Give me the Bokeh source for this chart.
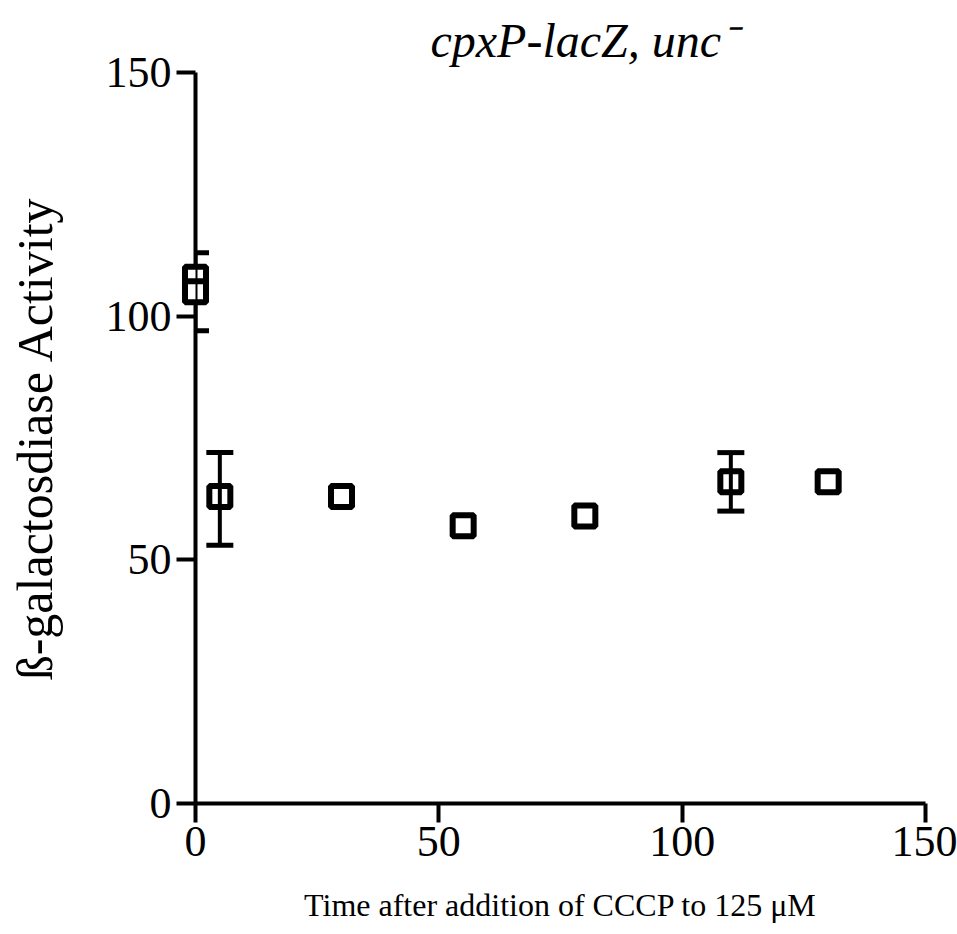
from bokeh.plotting import figure
from bokeh.models import Range1d, FixedTicker, Whisker, TeeHead, ColumnDataSource
from bokeh.embed import file_html
from bokeh.resources import INLINE

# ---- data ----
time_min = [0, 0, 5, 30, 55, 80, 110, 130]
activity = [108, 105, 63, 63, 57, 59, 66, 66]

err_time = [0, 5, 110]
err_lower = [97, 53, 60]
err_upper = [113, 72, 72]

x_ticks = [0, 50, 100, 150]
y_ticks = [0, 50, 100, 150]

title_text = "cpxP-lacZ, unc\u207b"
x_label = "Time after addition of CCCP to 125 \u03bcM"
y_label = "\u00df-galactosdiase Activity"

p = figure(width=957, height=934,
           x_range=Range1d(0, 150), y_range=Range1d(0, 150),
           output_backend="svg", toolbar_location=None,
           min_border_left=195, min_border_right=32,
           min_border_top=72, min_border_bottom=131,
           title=title_text)

p.outline_line_color = None
p.xgrid.visible = False
p.ygrid.visible = False
p.background_fill_color = "white"
p.border_fill_color = "white"

p.title.text_font = "Liberation Serif"
p.title.text_font_style = "italic"
p.title.text_font_size = "48px"
p.title.text_color = "black"
p.title.align = "left"
p.title.offset = 235
p.title.standoff = 12

for ax in (p.xaxis[0], p.yaxis[0]):
    ax.axis_line_color = "black"
    ax.axis_line_width = 4
    ax.major_tick_line_color = "black"
    ax.major_tick_line_width = 4
    ax.major_tick_in = 0
    ax.major_tick_out = 19
    ax.minor_tick_line_color = None
    ax.major_label_text_font = "Liberation Serif"
    ax.major_label_text_font_size = "44px"
    ax.major_label_text_color = "black"
    ax.axis_label_text_color = "black"
    ax.axis_label_text_font_style = "normal"

p.xaxis.ticker = FixedTicker(ticks=x_ticks)
p.yaxis.ticker = FixedTicker(ticks=y_ticks)

p.xaxis.axis_label = x_label
p.xaxis.axis_label_text_font = "Liberation Serif"
p.xaxis.axis_label_text_font_size = "32px"
p.xaxis.major_label_standoff = 4
p.xaxis.axis_label_standoff = 28

p.yaxis.axis_label = y_label
p.yaxis.axis_label_text_font = "Liberation Serif"
p.yaxis.axis_label_text_font_size = "50px"
p.yaxis.major_label_standoff = 5
p.yaxis.axis_label_standoff = 40

err_src = ColumnDataSource(dict(base=err_time, lower=err_lower, upper=err_upper))
whisk = Whisker(base="base", lower="lower", upper="upper", source=err_src,
                dimension="height", line_width=4, line_color="black", level="overlay",
                upper_head=TeeHead(size=27, line_width=5, line_color="black"),
                lower_head=TeeHead(size=27, line_width=5, line_color="black"))
p.add_layout(whisk)

src = ColumnDataSource(dict(time=time_min, activity=activity))
p.scatter(x="time", y="activity", source=src, marker="square", size=21,
          fill_color="white", line_color="black", line_width=6, level="overlay")

open("out.html", "w").write(file_html(p, INLINE))
